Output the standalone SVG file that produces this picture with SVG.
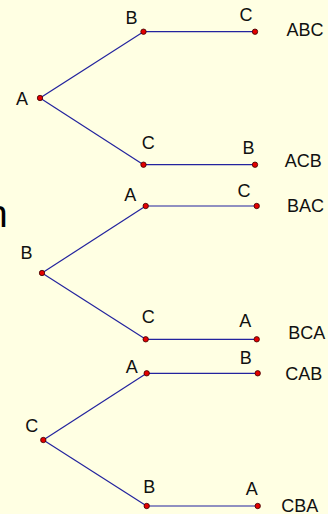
<svg xmlns="http://www.w3.org/2000/svg" width="328" height="514" viewBox="0 0 328 514">
  <style>
    .edge { stroke: #23239e; stroke-width: 1.2; fill: none; }
    .dot { fill: #e40000; stroke: #3a0000; stroke-width: 0.8; }
    .lbl { font-family: "Liberation Sans", Arial, sans-serif; font-size: 18px; fill: #111; text-anchor: middle; }
    .big { font-family: "Liberation Sans", Arial, sans-serif; font-size: 38px; fill: #000; }
  </style>
  <rect width="328" height="514" fill="#ffffe3"/>

  <!-- clipped word at the left margin -->
  <text class="big" x="-13.6" y="226.7">n</text>

  <!-- branches -->
  <g id="connectors">
    <line class="edge" x1="40" y1="98" x2="143.5" y2="31.7"/>
    <line class="edge" x1="40" y1="98" x2="143.5" y2="164.7"/>
    <line class="edge" x1="143.5" y1="31.7" x2="255" y2="31.7"/>
    <line class="edge" x1="143.5" y1="164.7" x2="255" y2="164.7"/>

    <line class="edge" x1="42" y1="273" x2="145.7" y2="206"/>
    <line class="edge" x1="42" y1="273" x2="145.7" y2="339.3"/>
    <line class="edge" x1="145.7" y1="206" x2="256.7" y2="206"/>
    <line class="edge" x1="145.7" y1="339.3" x2="256.7" y2="339.3"/>

    <line class="edge" x1="43.3" y1="440" x2="146.7" y2="373.3"/>
    <line class="edge" x1="43.3" y1="440" x2="146.7" y2="506"/>
    <line class="edge" x1="146.7" y1="373.3" x2="257.7" y2="373.3"/>
    <line class="edge" x1="146.7" y1="506" x2="257.7" y2="506"/>
  </g>

  <!-- tree starting with A -->
  <g id="a-root"><circle class="dot" cx="40" cy="98" r="2.7"/><text class="lbl" x="22" y="104.5">A</text></g>
  <g id="ab"><circle class="dot" cx="143.5" cy="31.7" r="2.7"/><text class="lbl" x="131.5" y="24">B</text></g>
  <g id="ac"><circle class="dot" cx="143.5" cy="164.7" r="2.7"/><text class="lbl" x="148.3" y="149">C</text></g>
  <g id="abc"><circle class="dot" cx="255" cy="31.7" r="2.7"/><text class="lbl" x="246" y="20.7">C</text><text class="lbl" x="305" y="36">ABC</text></g>
  <g id="acb"><circle class="dot" cx="255" cy="164.7" r="2.7"/><text class="lbl" x="248.5" y="154">B</text><text class="lbl" x="303.3" y="166.5">ACB</text></g>

  <!-- tree starting with B -->
  <g id="b-root"><circle class="dot" cx="42" cy="273" r="2.7"/><text class="lbl" x="26.5" y="259">B</text></g>
  <g id="ba"><circle class="dot" cx="145.7" cy="206" r="2.7"/><text class="lbl" x="130.3" y="200.5">A</text></g>
  <g id="bc"><circle class="dot" cx="145.7" cy="339.3" r="2.7"/><text class="lbl" x="148.3" y="323">C</text></g>
  <g id="bac"><circle class="dot" cx="256.7" cy="206" r="2.7"/><text class="lbl" x="244" y="196.5">C</text><text class="lbl" x="305.5" y="211.5">BAC</text></g>
  <g id="bca"><circle class="dot" cx="256.7" cy="339.3" r="2.7"/><text class="lbl" x="245.3" y="326.5">A</text><text class="lbl" x="306.7" y="339">BCA</text></g>

  <!-- tree starting with C -->
  <g id="c-root"><circle class="dot" cx="43.3" cy="440" r="2.7"/><text class="lbl" x="31.7" y="432">C</text></g>
  <g id="ca"><circle class="dot" cx="146.7" cy="373.3" r="2.7"/><text class="lbl" x="131.7" y="373">A</text></g>
  <g id="cb"><circle class="dot" cx="146.7" cy="506" r="2.7"/><text class="lbl" x="149.2" y="492.5">B</text></g>
  <g id="cab"><circle class="dot" cx="257.7" cy="373.3" r="2.7"/><text class="lbl" x="245.8" y="364">B</text><text class="lbl" x="303.7" y="380">CAB</text></g>
  <g id="cba"><circle class="dot" cx="257.7" cy="506" r="2.7"/><text class="lbl" x="251.7" y="495">A</text><text class="lbl" x="299.7" y="511.5">CBA</text></g>
</svg>
